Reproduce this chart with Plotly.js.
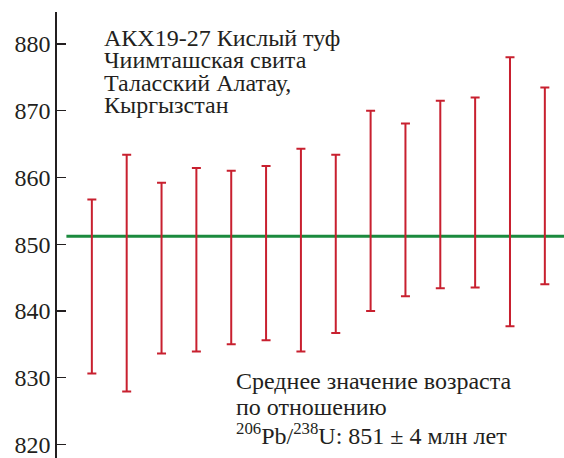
<!DOCTYPE html>
<html>
<head>
<meta charset="utf-8">
<script src="https://cdn.plot.ly/plotly-3.0.1.min.js"></script>
<style>
html,body{margin:0;padding:0;background:#fff;}
#chart{width:564px;height:458px;}
#chart text{font-family:'Liberation Serif','Times New Roman',serif !important;}
</style>
</head>
<body>
<div id="chart"></div>
<script>
// Analysis numbers (1..14) and their 2-sigma age intervals, Ma
var analyses = [1, 2, 3, 4, 5, 6, 7, 8, 9, 10, 11, 12, 13, 14];
var upperAge = [856.7, 863.4, 859.2, 861.4, 861.0, 861.7, 864.3, 863.4, 870.0, 868.1, 871.5, 872.0, 878.0, 873.5];
var lowerAge = [830.6, 827.9, 833.6, 833.9, 835.0, 835.6, 833.9, 836.7, 840.0, 842.2, 843.4, 843.5, 837.7, 844.0];
// Weighted mean age
var meanAge = 851.2;
var meanSpan = [0.27, 15];
var yTicks = [820, 830, 840, 850, 860, 870, 880];
var topLines = ['АКХ19-27 Кислый туф', 'Чиимташская свита', 'Таласский Алатау,', 'Кыргызстан'];
var botLines = ['Среднее значение возраста', 'по отношению', '<sup>206</sup>Pb/<sup>238</sup>U: 851 ± 4 млн лет'];

(function(){
  var center = upperAge.map(function(u, i){ return (u + lowerAge[i]) / 2; });
  var errUp = upperAge.map(function(u, i){ return u - center[i]; });
  var errDown = lowerAge.map(function(l, i){ return center[i] - l; });

  var Wd = 564, Ht = 458, ml = 56.7, mt = 12;
  function toPx(x){ return (x - ml) / (Wd - ml); }
  function toPy(y){ return 1 - (y - mt) / (Ht - mt); }

  var size = 24;
  var ink = '#231f20';

  var traces = [
    {
      x: meanSpan, y: [meanAge, meanAge], mode: 'lines', type: 'scatter',
      line: {color: '#1b8a3e', width: 3}, hoverinfo: 'skip', showlegend: false
    },
    {
      x: analyses, y: center, mode: 'markers', type: 'scatter',
      marker: {size: 1, opacity: 0},
      error_y: {type: 'data', symmetric: false, array: errUp, arrayminus: errDown,
        color: '#c8202f', thickness: 2, width: 4.5},
      showlegend: false
    }
  ];

  var topBase = [46, 68.3, 90.7, 113];
  var botBase = [389.3, 415, 441.7];
  var notes = [];
  topLines.forEach(function(t, i){
    notes.push({text: t, xref: 'paper', yref: 'paper', x: toPx(102), y: toPy(topBase[i] - 0.34 * size),
      xanchor: 'left', yanchor: 'middle', showarrow: false});
  });
  botLines.forEach(function(t, i){
    notes.push({text: t, xref: 'paper', yref: 'paper', x: toPx(234), y: toPy(botBase[i] - 0.34 * size),
      xanchor: 'left', yanchor: 'middle', showarrow: false});
  });

  var layout = {
    width: Wd, height: Ht,
    font: {family: 'Liberation Serif', size: size, color: ink},
    margin: {l: ml, r: 0, t: mt, b: 0, pad: 0},
    paper_bgcolor: '#fff', plot_bgcolor: '#fff',
    showlegend: false,
    xaxis: {range: [0, 14.55], visible: false},
    yaxis: {range: [817.95, 884.8], tickvals: yTicks, ticktext: yTicks.map(String),
      showline: true, linecolor: ink, linewidth: 1.6,
      ticks: 'inside', ticklen: 9, tickwidth: 1.3, tickcolor: ink,
      showgrid: false, zeroline: false},
    annotations: notes
  };

  Plotly.newPlot('chart', traces, layout, {staticPlot: true});
})();
</script>
</body>
</html>
